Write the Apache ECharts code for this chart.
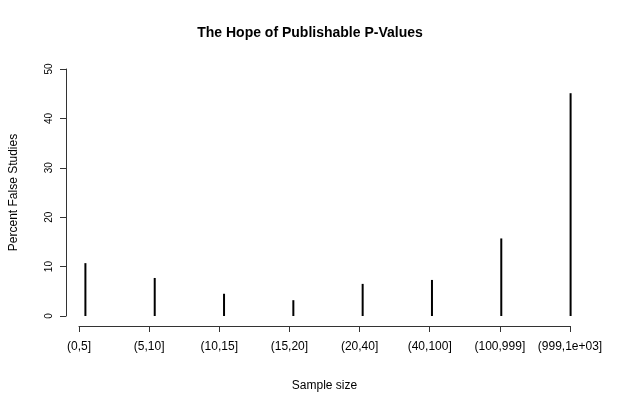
<!DOCTYPE html>
<html lang="en">
<head>
<meta charset="UTF-8">
<title>index</title>
<script src="https://cdn.jsdelivr.net/npm/echarts@6/dist/echarts.min.js"></script>
<style>html,body{margin:0;background:#fff}#c{width:620px;height:400px}</style>
</head>
<body>
<div id="c"></div>
<script>
var categories = ['(0,5]', '(5,10]', '(10,15]', '(15,20]', '(20,40]', '(40,100]', '(100,999]', '(999,1e+03]'];
var percentFalse = [10.7, 7.7, 4.5, 3.2, 6.5, 7.3, 15.7, 45.1];
var yTicks = [0, 10, 20, 30, 40, 50];

var chart = echarts.init(document.getElementById('c'));
var font = 'Liberation Sans, Arial, sans-serif';
var axisColor = '#333';
chart.setOption({
    animation: false,
    title: {
        text: 'The Hope of Publishable P-Values', left: 'center', top: 21,
        textStyle: {fontFamily: font, fontSize: 14, fontWeight: 'bold', color: '#000'}
    },
    grid: [
        {left: 59, right: 30, top: 69, bottom: 84},
        {left: 79, right: 50, top: 69, bottom: 84}
    ],
    xAxis: [{
        type: 'value', gridIndex: 0, min: 0.72, max: 8.28, show: false
    }, {
        type: 'value', gridIndex: 1, min: 1, max: 8, interval: 1, offset: 10,
        axisLine: {show: true, onZero: false, lineStyle: {color: axisColor}},
        axisTick: {show: true, length: 6, lineStyle: {color: axisColor}},
        splitLine: {show: false},
        axisLabel: {
            margin: 15, color: '#000', fontFamily: font, fontSize: 12,
            formatter: function (v) { return categories[Math.round(v) - 1] || ''; }
        },
        name: 'Sample size', nameLocation: 'middle', nameGap: 54,
        nameTextStyle: {fontFamily: font, fontSize: 12, color: '#000'}
    }],
    yAxis: [{
        type: 'value', gridIndex: 0, min: yTicks[0], max: yTicks[yTicks.length - 1], interval: 10,
        axisLine: {show: true, onZero: false, lineStyle: {color: axisColor}},
        axisTick: {show: true, length: 6, lineStyle: {color: axisColor}},
        splitLine: {show: false},
        axisLabel: {rotate: 90, margin: 12, color: '#000', fontFamily: font, fontSize: 10},
        name: 'Percent False Studies', nameLocation: 'middle', nameGap: 46,
        nameTextStyle: {fontFamily: font, fontSize: 12, color: '#000'}
    }, {
        type: 'value', gridIndex: 1, min: 0, max: 50, show: false
    }],
    series: [{
        type: 'custom', xAxisIndex: 0, yAxisIndex: 0,
        renderItem: function (params, api) {
            var p0 = api.coord([api.value(0), 0]);
            var p1 = api.coord([api.value(0), api.value(1)]);
            return {type: 'line', shape: {x1: p0[0], y1: p0[1], x2: p1[0], y2: p1[1]},
                style: {stroke: '#000', lineWidth: 2}};
        },
        data: percentFalse.map(function (v, i) { return [i + 1, v]; })
    }]
});
</script>
</body>
</html>
